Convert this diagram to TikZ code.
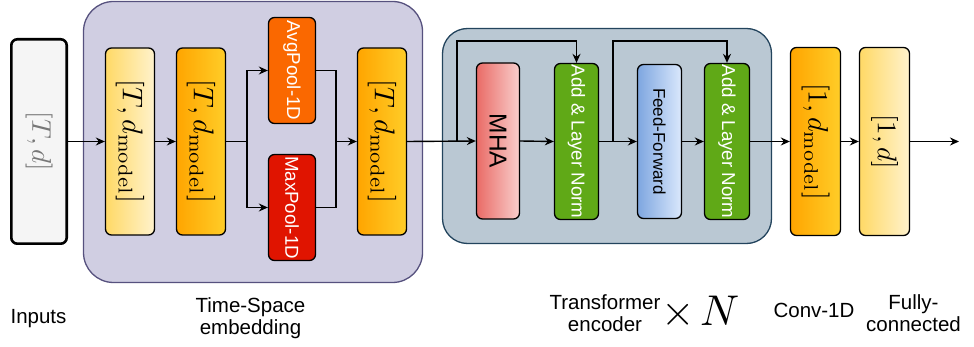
\documentclass[tikz,border=0pt]{standalone}
\usepackage{graphicx}
\usepackage[no-math]{fontspec}
\setmainfont{Liberation Sans}
\usetikzlibrary{arrows.meta,calc}
\definecolor{tsfill}{HTML}{D0CEE2}
\definecolor{tsdraw}{HTML}{56517E}
\definecolor{trfill}{HTML}{BAC8D3}
\definecolor{trdraw}{HTML}{23445D}
\definecolor{yelA}{HTML}{FFD966}
\definecolor{yelB}{HTML}{FFF2CC}
\definecolor{orgA}{HTML}{FFA500}
\definecolor{orgB}{HTML}{FFCD28}
\definecolor{avgc}{HTML}{FA6800}
\definecolor{maxc}{HTML}{E01400}
\definecolor{mhaA}{HTML}{EA6B66}
\definecolor{mhaB}{HTML}{F8CECC}
\definecolor{ffA}{HTML}{7EA6E0}
\definecolor{ffB}{HTML}{DAE8FC}
\definecolor{grn}{HTML}{60A917}
\definecolor{inpfill}{HTML}{F5F5F5}
\definecolor{inptext}{HTML}{777777}
\newcommand{\bigmath}[2]{\rotatebox{-90}{\scalebox{#1}{$#2$}}}
\begin{document}
\begin{tikzpicture}[x=1pt,y=-1pt,
  tall/.style={draw=black, line width=1.3pt, rounded corners=6pt, inner sep=0pt, text=black},
  pooltxt/.style={font=\fontsize{18.7}{20}\selectfont, text=white},
  grp/.style={line width=1.3pt, inner sep=0pt},
  arr/.style={-{Stealth[length=9pt,width=8pt]}, line width=1.4pt},
  ln/.style={line width=1.4pt},
  lbl/.style={font=\fontsize{20.5}{22}\selectfont, inner sep=0pt, align=center}
]
\useasboundingbox (0,0) rectangle (974,347);

% groups
\node[grp, draw=tsdraw, fill=tsfill, rounded corners=30pt, minimum width=339pt, minimum height=281pt] (ts) at (253,142) {};
\node[grp, draw=trdraw, fill=trfill, rounded corners=25pt, minimum width=329pt, minimum height=215pt] (tr) at (607,136) {};

% inputs
\node[tall, fill=inpfill, line width=2.6pt, minimum width=55.4pt, minimum height=204.4pt, text=inptext] (inp) at (39,141.5) {\bigmath{2.7}{[T, d]}};

% time-space embedding
\node[tall, left color=yelA, right color=yelB, minimum width=49pt, minimum height=187pt] (b1) at (130,141.5) {\bigmath{2.85}{[T, d_{\mathrm{model}}]}};
\node[tall, left color=orgA, right color=orgB, minimum width=49pt, minimum height=187pt] (b2) at (201,141.5) {\bigmath{2.85}{[T, d_{\mathrm{model}}]}};
\node[tall, fill=avgc, minimum width=47pt, minimum height=106pt, pooltxt] (avg) at (292,70.5) {\rotatebox{-90}{AvgPool-1D}};
\node[tall, fill=maxc, minimum width=47pt, minimum height=106pt, pooltxt] (max) at (292,207.5) {\rotatebox{-90}{MaxPool-1D}};
\node[tall, left color=orgA, right color=orgB, minimum width=49pt, minimum height=187pt] (b3) at (382,141.5) {\bigmath{2.85}{[T, d_{\mathrm{model}}]}};

% transformer encoder
\node[tall, left color=mhaA, right color=mhaB, minimum width=43pt, minimum height=156pt, font=\fontsize{24.5}{26}\selectfont] (mha) at (498,141) {\rotatebox{-90}{MHA}};
\node[tall, fill=grn, minimum width=44pt, minimum height=156pt, pooltxt] (an1) at (576.5,141.5) {\rotatebox{-90}{Add \& Layer Norm}};
\node[tall, left color=ffA, right color=ffB, minimum width=44pt, minimum height=154pt, font=\fontsize{17}{19}\selectfont] (ff) at (659.5,141.5) {\rotatebox{-90}{Feed-Forward}};
\node[tall, fill=grn, minimum width=45pt, minimum height=156pt, pooltxt] (an2) at (727,141.5) {\rotatebox{-90}{Add \& Layer Norm}};

% conv and fc
\node[tall, left color=orgA, right color=orgB, minimum width=50pt, minimum height=188pt] (conv) at (815.5,141.5) {\bigmath{2.8}{[1, d_{\mathrm{model}}]}};
\node[tall, left color=yelA, right color=yelB, minimum width=50pt, minimum height=188pt] (fc) at (884.5,141.5) {\bigmath{2.7}{[1, d]}};

% helper coordinates
\coordinate (sp) at (247,141.5);
\coordinate (mg) at (336,141.5);
\coordinate (s1) at (457,141.5);
\coordinate (s2) at (613,141.5);
\coordinate (out) at (959,141.5);

% connectors
\draw[arr] (inp.east) -- (b1.west);
\draw[arr] (b1.east) -- (b2.west);
\draw[ln] (b2.east) -- (sp);
\draw[arr] (sp) |- (avg.west);
\draw[arr] (sp) |- (max.west);
\draw[ln] (avg.east) -| (mg) |- (max.east);
\draw[arr] (mg) -- (b3.west);
\draw[arr] (b3.east) -- (mha.west);
\draw[arr] (s1) -- ++(0,-100.5) -| (an1.north);
\draw[arr] (mha.east) -- (an1.west);
\draw[arr] (an1.east) -- (ff.west);
\draw[arr] (s2) -- ++(0,-100.5) -| (an2.north);
\draw[arr] (ff.east) -- (an2.west);
\draw[arr] (an2.east) -- (conv.west);
\draw[arr] (conv.east) -- (fc.west);
\draw[arr] (fc.east) -- (out);

% labels
\node[lbl, anchor=base] (linp) at (38.5,323) {Inputs};
\node[lbl, anchor=north] (lts) at (250.5,297) {Time-Space\\embedding};
\node[lbl, anchor=north] (ltr) at (605,294) {Transformer\\encoder};
\node[anchor=base, inner sep=0pt] (xn) at (700.5,325) {\scalebox{4.3}{$\times\mskip2mu N$}};
\node[lbl, anchor=base] (lconv) at (814,317) {Conv-1D};
\node[lbl, anchor=north] (lfc) at (913.5,294) {Fully-\\connected};
\end{tikzpicture}
\end{document}
